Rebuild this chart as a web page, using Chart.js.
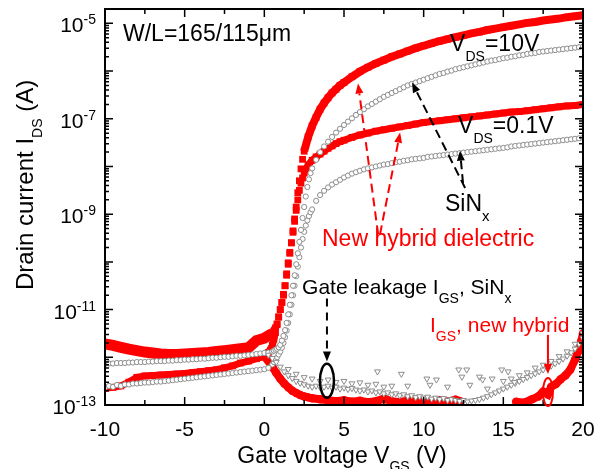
<!DOCTYPE html>
<html>
<head>
<meta charset="utf-8">
<script src="https://cdn.jsdelivr.net/npm/chart.js@4.4.0/dist/chart.umd.min.js"></script>
<style>
  html, body { margin: 0; padding: 0; background: #fff; }
  canvas { display: block; }
</style>
</head>
<body>
<canvas id="chart" width="597" height="469"></canvas>
<script>
// gate voltage (V) and log10 of current (A)

// new hybrid dielectric, VDS = 10 V and 0.1 V (red squares)
const vRed = [-10,-9.5,-9,-8.5,-8,-7.5,-7,-6.5,-6,-5.5,-5,-4.5,-4,-3.5,-3,-2.5,-2,-1.5,-1,-0.5,0,
  0.25,
  0.5,0.6,0.7,0.8,0.9,1,1.1,1.2,1.3,1.4,1.5,1.6,1.7,1.8,1.9,2,2.1,2.2,2.3,2.4,2.5,
  2.75,3,3.25,3.5,3.75,4,4.25,4.5,4.75,5,
  5.5,6,6.5,7,7.5,8,8.5,9,9.5,10,10.5,11,11.5,12,12.5,13,13.5,14,14.5,15,15.5,16,16.5,17,17.5,18,18.5,19,19.5,20];
const hybrid10 = [-11.72,-11.75,-11.79,-11.83,-11.86,-11.89,-11.91,-11.93,-11.94,-11.94,-11.93,-11.92,-11.91,-11.9,-11.88,-11.86,-11.84,-11.82,-11.8,-11.65,-11.6,
  -11.55,
  -11.5,-11.45,-11.38,-11.3,-11.15,-11.0,-10.85,-10.7,-10.5,-10.25,-10.02,-9.8,-9.6,-9.35,-9.1,-8.85,-8.55,-8.3,-8.05,-7.85,-7.68,
  -7.38,-7.15,-6.97,-6.8,-6.67,-6.56,-6.46,-6.38,-6.3,-6.24,
  -6.12,-6.01,-5.92,-5.84,-5.77,-5.7,-5.64,-5.58,-5.52,-5.47,-5.42,-5.37,-5.33,-5.29,-5.25,-5.21,-5.18,-5.14,-5.11,-5.08,-5.05,-5.02,-4.99,-4.97,-4.94,-4.92,-4.9,-4.87,-4.85,-4.83];
const hybrid01 = [-12.65,-12.63,-12.6,-12.52,-12.42,-12.39,-12.38,-12.37,-12.36,-12.35,-12.34,-12.32,-12.3,-12.28,-12.26,-12.22,-12.18,-12.12,-12.08,-12.03,-11.98,
  -11.9,
  -11.75,-11.62,-11.48,-11.32,-11.16,-11.0,-10.85,-10.68,-10.5,-10.28,-10.05,-9.82,-9.6,-9.38,-9.15,-8.92,-8.7,-8.5,-8.35,-8.24,-8.14,
  -7.97,-7.87,-7.8,-7.74,-7.68,-7.62,-7.57,-7.52,-7.48,-7.45,
  -7.39,-7.34,-7.3,-7.26,-7.23,-7.2,-7.17,-7.14,-7.11,-7.08,-7.06,-7.04,-7.02,-7.0,-6.98,-6.96,-6.94,-6.92,-6.9,-6.88,-6.86,-6.85,-6.83,-6.81,-6.79,-6.77,-6.75,-6.73,-6.72,-6.7];

// SiNx, VDS = 10 V and 0.1 V (grey open circles)
const vGray = [-10,-9.75,-9.5,-9.25,-9,-8.75,-8.5,-8.25,-8,-7.75,-7.5,-7.25,-7,-6.75,-6.5,-6.25,-6,-5.75,-5.5,-5.25,-5,-4.75,-4.5,-4.25,-4,-3.75,-3.5,-3.25,-3,-2.75,-2.5,-2.25,-2,-1.75,-1.5,-1.25,-1,-0.75,-0.5,-0.25,0,0.25,0.5,
  0.6,0.7,0.8,0.9,1,1.1,1.2,1.3,1.4,1.5,1.6,1.7,1.8,1.9,2,2.1,2.2,2.3,2.4,2.5,2.6,2.7,2.8,2.9,3,
  3.25,3.5,3.75,4,4.25,4.5,4.75,5,5.25,5.5,5.75,6,6.25,6.5,6.75,7,7.25,7.5,7.75,8,8.25,8.5,8.75,9,9.25,9.5,9.75,10,
  10.25,10.5,10.75,11,11.25,11.5,11.75,12,12.25,12.5,12.75,13,13.25,13.5,13.75,14,14.25,14.5,14.75,15,15.25,15.5,15.75,16,
  16.25,16.5,16.75,17,17.25,17.5,17.75,18,18.25,18.5,18.75,19,19.25,19.5,19.75,20];
const sinx10 = [-12.14,-12.13,-12.13,-12.12,-12.12,-12.12,-12.11,-12.11,-12.1,-12.1,-12.1,-12.09,-12.09,-12.08,-12.08,-12.08,-12.07,-12.07,-12.06,-12.06,-12.05,-12.05,-12.04,-12.04,-12.03,-12.03,-12.02,-12.01,-12.01,-12.0,-11.99,-11.99,-11.98,-11.97,-11.97,-11.96,-11.95,-11.94,-11.93,-11.92,-11.91,-11.9,-11.88,
  -11.86,-11.84,-11.82,-11.79,-11.74,-11.65,-11.55,-11.43,-11.28,-11.1,-10.9,-10.7,-10.5,-10.28,-10.05,-9.82,-9.58,-9.33,-9.08,-8.85,-8.63,-8.43,-8.27,-8.14,-8.04,
  -7.86,-7.7,-7.58,-7.48,-7.38,-7.29,-7.21,-7.13,-7.06,-6.99,-6.92,-6.86,-6.8,-6.74,-6.69,-6.64,-6.59,-6.54,-6.5,-6.46,-6.42,-6.38,-6.34,-6.3,-6.27,-6.24,-6.21,-6.18,
  -6.15,-6.12,-6.09,-6.06,-6.04,-6.01,-5.99,-5.96,-5.94,-5.92,-5.9,-5.88,-5.86,-5.84,-5.82,-5.8,-5.78,-5.77,-5.75,-5.73,-5.72,-5.7,-5.69,-5.67,
  -5.66,-5.64,-5.63,-5.62,-5.6,-5.59,-5.58,-5.57,-5.56,-5.55,-5.54,-5.53,-5.52,-5.51,-5.5,-5.49];
const sinx01 = [-12.63,-12.6,-12.62,-12.58,-12.6,-12.57,-12.57,-12.55,-12.55,-12.54,-12.53,-12.53,-12.52,-12.51,-12.51,-12.5,-12.49,-12.48,-12.47,-12.46,-12.45,-12.44,-12.43,-12.42,-12.41,-12.4,-12.39,-12.38,-12.37,-12.36,-12.35,-12.34,-12.33,-12.32,-12.31,-12.3,-12.29,-12.28,-12.27,-12.26,-12.25,-12.22,-12.15,
  -12.1,-12.06,-12.0,-11.94,-11.88,-11.8,-11.7,-11.58,-11.44,-11.28,-11.1,-10.9,-10.7,-10.5,-10.3,-10.1,-9.9,-9.7,-9.52,-9.37,-9.24,-9.13,-9.04,-8.96,-8.9,
  -8.72,-8.6,-8.51,-8.44,-8.38,-8.33,-8.28,-8.23,-8.19,-8.15,-8.12,-8.09,-8.06,-8.04,-8.02,-8.0,-7.98,-7.96,-7.95,-7.93,-7.91,-7.9,-7.88,-7.87,-7.85,-7.84,-7.83,-7.82,
  -7.8,-7.79,-7.78,-7.77,-7.76,-7.75,-7.74,-7.73,-7.72,-7.71,-7.7,-7.69,-7.68,-7.67,-7.66,-7.65,-7.64,-7.63,-7.62,-7.61,-7.6,-7.58,-7.57,-7.56,
  -7.55,-7.54,-7.53,-7.52,-7.51,-7.5,-7.49,-7.48,-7.47,-7.46,-7.45,-7.44,-7.43,-7.42,-7.41,-7.4];

// gate leakage IGS, SiNx (grey open triangles): main band, upper edge of the band, scattered points
const vIgsSinx = [0.25,0.5,0.75,1,1.25,1.5,1.75,2,2.25,2.5,2.75,3,3.25,3.5,3.75,4,4.25,4.5,4.75,5,5.25,5.5,5.75,6,6.25,6.5,6.75,7,7.25,7.5,7.75,8,8.25,8.5,8.75,9,9.25,9.5,9.75,10,
  10.25,10.5,10.75,11,11.25,11.5,11.75,12,12.25,12.5,12.75,13,13.25,13.5,13.75,14,14.25,14.5,14.75,15,15.25,15.5,15.75,16,16.25,16.5,16.75,17,17.25,17.5,17.75,18,18.25,18.5,18.75,19,19.25,19.5,19.75,20,
  1.5,2,2.5,3,3.5,4,4.5,5,5.5,6,6.5,7,7.5,8,15,15.5,16,16.5,17,17.5,18,18.5,19,19.5,20,
  7.1,8.6,9,10.2,10.4,10.8,11.5,12.2,12.4,12.7,12.9,13.5,13.7,14,14.3,14.9,15.3,15.7];
const igsSinx = [-11.95,-12.02,-12.1,-12.2,-12.3,-12.38,-12.44,-12.5,-12.54,-12.57,-12.6,-12.62,-12.6,-12.63,-12.62,-12.6,-12.64,-12.62,-12.66,-12.64,-12.67,-12.65,-12.68,-12.7,-12.68,-12.72,-12.7,-12.74,-12.72,-12.76,-12.74,-12.78,-12.76,-12.8,-12.78,-12.82,-12.8,-12.84,-12.82,-12.85,
  -12.83,-12.87,-12.85,-12.88,-12.86,-12.9,-12.88,-12.9,-12.92,-12.9,-12.93,-12.91,-12.9,-12.88,-12.85,-12.82,-12.78,-12.74,-12.7,-12.66,-12.62,-12.58,-12.54,-12.5,-12.46,-12.42,-12.38,-12.34,-12.3,-12.26,-12.22,-12.18,-12.13,-12.08,-12.03,-11.97,-11.9,-11.82,-11.72,-11.6,
  -12.25,-12.35,-12.42,-12.45,-12.5,-12.47,-12.52,-12.5,-12.55,-12.53,-12.58,-12.56,-12.62,-12.6,-12.5,-12.45,-12.38,-12.32,-12.22,-12.16,-12.08,-11.98,-11.88,-11.72,-11.5,
  -12.3,-12.35,-12.6,-12.45,-12.58,-12.47,-12.62,-12.26,-12.41,-12.26,-12.58,-12.41,-12.47,-12.66,-12.45,-12.26,-12.3,-12.52];

// gate leakage IGS, new hybrid (red dots); null = no data in the gap
const vIgsHybrid = [0,0.25,0.5,0.75,1,1.25,1.5,1.75,2,2.25,2.5,2.75,3,3.5,4,4.5,5,5.5,6,6.5,7,7.5,8,8.5,9,9.5,10,10.5,11,11.5,12,12.3,14,
  15.8,16.3,16.8,17.2,17.5,17.8,18,18.3,18.6,18.9,19.2,19.5,19.7,19.9,20];
const igsHybrid = [-11.98,-12.08,-12.2,-12.33,-12.45,-12.55,-12.63,-12.7,-12.75,-12.79,-12.82,-12.84,-12.86,
  -12.88,-12.9,-12.92,-12.9,-12.93,-12.91,-12.94,-12.92,-12.87,-12.92,-12.94,-12.9,-12.93,-12.91,-12.94,-12.9,-12.93,-12.89,-12.92,null,
  -12.93,-12.95,-12.88,-12.82,-12.72,-12.78,-12.62,-12.56,-12.46,-12.38,-12.26,-12.05,-11.88,-11.65,-11.5];

const xTicks = [-10, -5, 0, 5, 10, 15, 20];
const xMinor = [-7.5, -2.5, 2.5, 7.5, 12.5, 17.5];
const yTickExps = [-5, -7, -9, -11, -13];

const RED = '#ff0000';
const GREY = '#8c8c8c';
const FONT = '"Liberation Sans", Arial, sans-serif';

function toPoints(xs, logs) {
  return xs.map((x, i) => ({ x: x, y: logs[i] === null ? null : Math.pow(10, logs[i]) }));
}

// draws a run of text pieces: [text, size, dy]
function rich(ctx, x, y, parts, align) {
  let w = 0;
  parts.forEach(p => { ctx.font = p[1] + 'px ' + FONT; w += ctx.measureText(p[0]).width; });
  let cx = align === 'center' ? x - w / 2 : (align === 'right' ? x - w : x);
  ctx.textAlign = 'left';
  ctx.textBaseline = 'alphabetic';
  parts.forEach(p => {
    ctx.font = p[1] + 'px ' + FONT;
    ctx.fillText(p[0], cx, y + (p[2] || 0));
    cx += ctx.measureText(p[0]).width;
  });
}

function arrow(ctx, x1, y1, x2, y2, color, dash) {
  const ang = Math.atan2(y2 - y1, x2 - x1);
  const hl = 10, hw = 4;
  const bx = x2 - hl * Math.cos(ang), by = y2 - hl * Math.sin(ang);
  ctx.strokeStyle = color;
  ctx.fillStyle = color;
  ctx.lineWidth = 2;
  ctx.setLineDash(dash || []);
  ctx.beginPath();
  ctx.moveTo(x1, y1);
  ctx.lineTo(bx, by);
  ctx.stroke();
  ctx.setLineDash([]);
  ctx.beginPath();
  ctx.moveTo(x2, y2);
  ctx.lineTo(bx + hw * Math.sin(ang), by - hw * Math.cos(ang));
  ctx.lineTo(bx - hw * Math.sin(ang), by + hw * Math.cos(ang));
  ctx.closePath();
  ctx.fill();
}

const framePlugin = {
  id: 'frameAndNotes',
  afterDraw(chart) {
    const ctx = chart.ctx, a = chart.chartArea;
    const xs = chart.scales.x, ys = chart.scales.y;
    const X = v => xs.getPixelForValue(v);
    const Y = e => ys.getPixelForValue(Math.pow(10, e));
    ctx.save();
    ctx.strokeStyle = '#000';
    ctx.fillStyle = '#000';

    // inward ticks on all four sides
    ctx.lineWidth = 1.5;
    ctx.beginPath();
    const tx = (v, len) => {
      const p = X(v);
      ctx.moveTo(p, a.bottom); ctx.lineTo(p, a.bottom - len);
      ctx.moveTo(p, a.top); ctx.lineTo(p, a.top + len);
    };
    xTicks.forEach(v => tx(v, 8));
    xMinor.forEach(v => tx(v, 5));
    const ty = (q, len) => {
      ctx.moveTo(a.left, q); ctx.lineTo(a.left + len, q);
      ctx.moveTo(a.right, q); ctx.lineTo(a.right - len, q);
    };
    for (let e = -13; e <= -5; e++) {
      ty(Y(e), 8);
      for (let m = 2; m <= 9; m++) {
        const q = ys.getPixelForValue(m * Math.pow(10, e));
        if (q < a.top) break;
        ty(q, 4);
      }
    }
    ctx.stroke();

    ctx.lineWidth = 2;
    ctx.strokeRect(a.left, a.top, a.right - a.left, a.bottom - a.top);

    // tick labels
    ctx.fillStyle = '#000';
    ctx.font = '21px ' + FONT;
    ctx.textAlign = 'center';
    ctx.textBaseline = 'alphabetic';
    xTicks.forEach(v => ctx.fillText(String(v), X(v), a.bottom + 31));
    yTickExps.forEach(e => rich(ctx, a.left - 9, Y(e) + 9, [['10', 21, 0], [String(e), 14, -8]], 'right'));

    // axis titles
    rich(ctx, (a.left + a.right) / 2 - 2, 463, [['Gate voltage V', 23], ['GS', 14, 8], [' (V)', 23]], 'center');
    ctx.save();
    ctx.translate(33, 290);
    ctx.rotate(-Math.PI / 2);
    rich(ctx, 0, 0, [['Drain current I', 24], ['DS', 14, 9], [' (A)', 24]], 'left');
    ctx.restore();

    // annotations
    ctx.fillStyle = '#000';
    rich(ctx, X(-8.87), Y(-5.36), [['W/L=165/115μm', 23]]);
    rich(ctx, X(11.66), Y(-5.57), [['V', 23], ['DS', 14, 10], ['=10V', 23]]);
    rich(ctx, X(12.16), Y(-7.29), [['V', 23], ['DS', 14, 10], ['=0.1V', 23]]);
    rich(ctx, X(11.34), Y(-8.94), [['SiN', 23], ['x', 15, 10]]);
    rich(ctx, X(2.37), Y(-10.68), [['Gate leakage I', 21], ['GS', 14, 9], [', SiN', 21], ['x', 14, 9]]);
    ctx.fillStyle = RED;
    rich(ctx, X(3.62), Y(-9.67), [['New hybrid dielectric', 23]]);
    rich(ctx, X(10.4), Y(-11.46), [['I', 21], ['GS', 14, 9], [', new hybrid', 21]]);

    const dash = [9, 5];
    arrow(ctx, X(7.14), Y(-9.42), X(5.88), Y(-6.26), RED, dash);
    arrow(ctx, X(7.26), Y(-9.42), X(8.52), Y(-7.29), RED, dash);
    arrow(ctx, X(12.6), Y(-8.45), X(9.27), Y(-6.24), '#000', dash);
    arrow(ctx, X(12.47), Y(-8.35), X(12.28), Y(-7.67), '#000', dash);
    arrow(ctx, X(3.93), Y(-10.77), X(3.93), Y(-12.09), '#000', [8, 6]);
    arrow(ctx, X(17.8), Y(-11.53), X(17.8), Y(-12.35), RED);

    ctx.lineWidth = 2.5;
    ctx.strokeStyle = '#000';
    ctx.beginPath();
    ctx.ellipse(X(3.93), Y(-12.49), 7, 17, 0, 0, Math.PI * 2);
    ctx.stroke();
    ctx.lineWidth = 2;
    ctx.strokeStyle = RED;
    ctx.beginPath();
    ctx.ellipse(X(17.8), Y(-12.73), 5, 14, 0, 0, Math.PI * 2);
    ctx.stroke();
    ctx.restore();
  }
};

const redBand = (offWidth, onWidth) => ({
  borderWidth: c => (c.p0.parsed.x < 0.3 ? offWidth : onWidth),
  borderColor: c => (c.p0.parsed.x >= 0.7 && c.p1.parsed.x <= 2.5 ? 'rgba(255,0,0,0)' : undefined)
});

new Chart(document.getElementById('chart'), {
  type: 'scatter',
  data: {
    datasets: [
      {
        label: 'SiNx, VDS=10V', data: toPoints(vGray, sinx10), order: 1,
        pointStyle: 'circle', pointRadius: 2.6, pointBorderWidth: 1,
        pointBorderColor: GREY, pointBackgroundColor: '#fff', showLine: false
      },
      {
        label: 'SiNx, VDS=0.1V', data: toPoints(vGray, sinx01), order: 1,
        pointStyle: 'circle', pointRadius: 2.6, pointBorderWidth: 1,
        pointBorderColor: GREY, pointBackgroundColor: '#fff', showLine: false
      },
      {
        label: 'IGS, SiNx', data: toPoints(vIgsSinx, igsSinx), order: 0,
        pointStyle: 'triangle', pointRotation: 180, pointRadius: 3.4, pointBorderWidth: 1,
        pointBorderColor: GREY, pointBackgroundColor: '#fff', showLine: false
      },
      {
        label: 'hybrid, VDS=10V', data: toPoints(vRed, hybrid10), order: 2,
        pointStyle: 'rect', pointRadius: 4.8, pointBorderWidth: 0,
        pointBackgroundColor: RED, borderColor: RED, borderWidth: 8,
        showLine: true, tension: 0, segment: redBand(11, 8)
      },
      {
        label: 'hybrid, VDS=0.1V', data: toPoints(vRed, hybrid01), order: 2,
        pointStyle: 'rect', pointRadius: 4.8, pointBorderWidth: 0,
        pointBackgroundColor: RED, borderColor: RED, borderWidth: 7,
        showLine: true, tension: 0, segment: redBand(7, 7)
      },
      {
        label: 'IGS, hybrid', data: toPoints(vIgsHybrid, igsHybrid), order: 2,
        pointStyle: 'circle', pointRadius: 4.2, pointBorderWidth: 0,
        pointBackgroundColor: RED, borderColor: RED, borderWidth: 8,
        showLine: true, spanGaps: false, tension: 0
      }
    ]
  },
  options: {
    responsive: false,
    animation: false,
    events: [],
    layout: { padding: { left: 0, right: 14, top: 9, bottom: 0 }, autoPadding: false },
    plugins: { legend: { display: false }, tooltip: { enabled: false } },
    scales: {
      x: {
        type: 'linear', min: -10, max: 20,
        ticks: { display: false }, grid: { display: false }, border: { display: false },
        afterFit: s => { s.height = 64; }
      },
      y: {
        type: 'logarithmic', min: 1e-13, max: 2e-5,
        ticks: { display: false }, grid: { display: false }, border: { display: false },
        afterFit: s => { s.width = 105; }
      }
    }
  },
  plugins: [framePlugin]
});
</script>
</body>
</html>
